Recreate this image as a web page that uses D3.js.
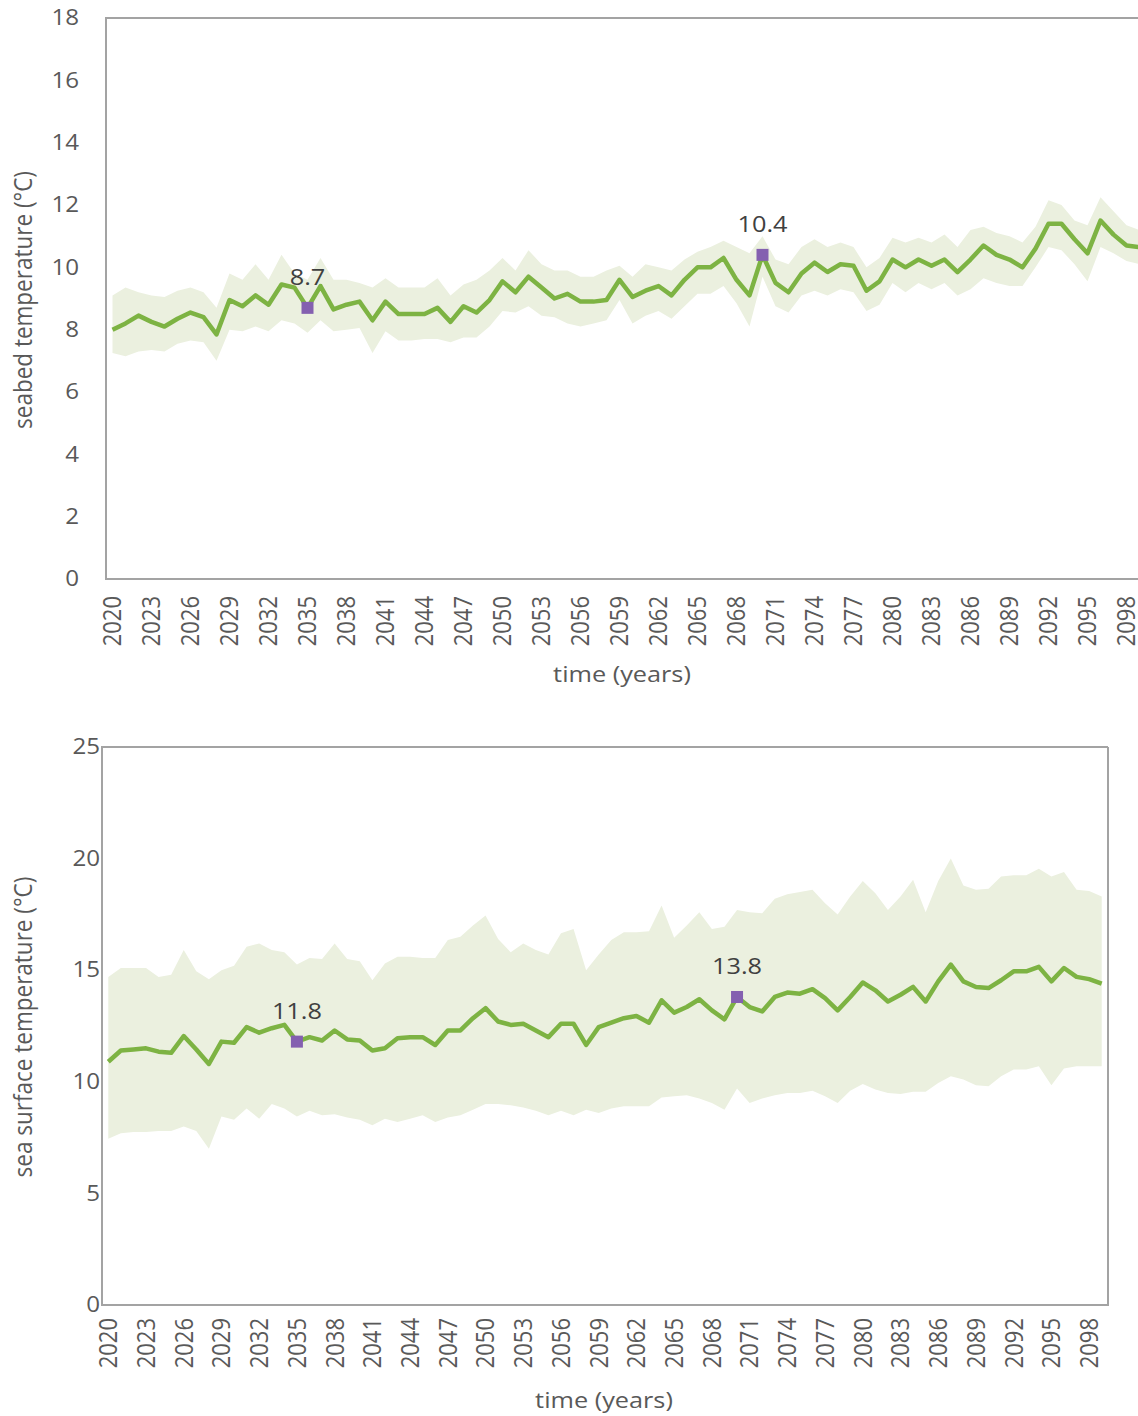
<!DOCTYPE html>
<html>
<head>
<meta charset="utf-8">
<script src="https://cdn.jsdelivr.net/npm/d3@7/dist/d3.min.js"></script>
<style>
    body { margin: 0; background: #ffffff; }
    text { font-family: "Open Sans", sans-serif; }
</style>
</head>
<body>
<div id="vis"></div>
<script>
// categories
var years = [
    2020, 2021, 2022, 2023, 2024, 2025, 2026, 2027, 2028, 2029,
    2030, 2031, 2032, 2033, 2034, 2035, 2036, 2037, 2038, 2039,
    2040, 2041, 2042, 2043, 2044, 2045, 2046, 2047, 2048, 2049,
    2050, 2051, 2052, 2053, 2054, 2055, 2056, 2057, 2058, 2059,
    2060, 2061, 2062, 2063, 2064, 2065, 2066, 2067, 2068, 2069,
    2070, 2071, 2072, 2073, 2074, 2075, 2076, 2077, 2078, 2079,
    2080, 2081, 2082, 2083, 2084, 2085, 2086, 2087, 2088, 2089,
    2090, 2091, 2092, 2093, 2094, 2095, 2096, 2097, 2098, 2099
];

// labelled years (purple squares)
var markYears = [ 2035, 2070 ];

// seabed temperature (°C)
var seabedMean = [
    8.0, 8.2, 8.45, 8.25, 8.1, 8.35, 8.55, 8.4, 7.85, 8.95,
    8.75, 9.1, 8.8, 9.45, 9.35, 8.7, 9.4, 8.65, 8.8, 8.9,
    8.3, 8.9, 8.5, 8.5, 8.5, 8.7, 8.25, 8.75, 8.55, 8.95,
    9.55, 9.2, 9.7, 9.35, 9.0, 9.15, 8.9, 8.9, 8.95, 9.6,
    9.05, 9.25, 9.4, 9.1, 9.6, 10.0, 10.0, 10.3, 9.6, 9.1,
    10.4, 9.5, 9.2, 9.8, 10.15, 9.85, 10.1, 10.05, 9.25, 9.55,
    10.25, 10.0, 10.25, 10.05, 10.25, 9.85, 10.25, 10.7, 10.4, 10.25,
    10.0, 10.6, 11.4, 11.4, 10.9, 10.45, 11.5, 11.05, 10.7, 10.65
];
var seabedUpper = [
    9.1, 9.35, 9.2, 9.1, 9.05, 9.25, 9.35, 9.2, 8.7, 9.8,
    9.6, 10.1, 9.6, 10.4, 9.8, 9.6, 10.3, 9.6, 9.6, 9.5,
    9.35, 9.65, 9.35, 9.35, 9.35, 9.65, 9.1, 9.45, 9.6, 9.9,
    10.3, 9.9, 10.55, 10.1, 9.9, 9.9, 9.7, 9.7, 9.9, 10.05,
    9.7, 10.1, 10.0, 9.9, 10.25, 10.5, 10.65, 10.85, 10.65, 10.45,
    11.0, 10.25, 10.1, 10.65, 10.9, 10.65, 10.8, 10.65, 10.0, 10.3,
    10.95, 10.8, 10.95, 10.8, 11.05, 10.65, 11.2, 11.3, 11.1, 11.0,
    10.8, 11.3, 12.15, 12.0, 11.5, 11.35, 12.25, 11.8, 11.35, 11.2
];
var seabedLower = [
    7.25, 7.15, 7.3, 7.35, 7.3, 7.55, 7.65, 7.6, 7.0, 8.0,
    7.95, 8.1, 7.95, 8.3, 8.2, 7.9, 8.3, 7.95, 8.0, 8.05,
    7.25, 7.95, 7.65, 7.65, 7.7, 7.7, 7.6, 7.75, 7.75, 8.1,
    8.6, 8.55, 8.75, 8.45, 8.4, 8.2, 8.1, 8.2, 8.3, 8.95,
    8.2, 8.45, 8.6, 8.35, 8.75, 9.15, 9.15, 9.4, 8.85, 8.1,
    9.7, 8.75, 8.55, 9.1, 9.25, 9.1, 9.3, 9.2, 8.6, 8.8,
    9.5, 9.2, 9.5, 9.3, 9.5, 9.1, 9.3, 9.65, 9.5, 9.4,
    9.4, 10.0, 10.65, 10.55, 10.1, 9.55, 10.65, 10.45, 10.2, 10.1
];

// sea surface temperature (°C)
var sstMean = [
    10.9, 11.4, 11.45, 11.5, 11.35, 11.3, 12.05, 11.45, 10.8, 11.8,
    11.75, 12.45, 12.2, 12.4, 12.55, 11.8, 12.0, 11.85, 12.3, 11.9,
    11.85, 11.4, 11.5, 11.95, 12.0, 12.0, 11.65, 12.3, 12.3, 12.85,
    13.3, 12.7, 12.55, 12.6, 12.3, 12.0, 12.6, 12.6, 11.65, 12.45,
    12.65, 12.85, 12.95, 12.65, 13.65, 13.1, 13.35, 13.7, 13.2, 12.8,
    13.8, 13.35, 13.15, 13.8, 14.0, 13.95, 14.15, 13.75, 13.2, 13.8,
    14.45, 14.1, 13.6, 13.9, 14.25, 13.6, 14.5, 15.25, 14.5, 14.25,
    14.2, 14.55, 14.95, 14.95, 15.15, 14.5, 15.1, 14.7, 14.6, 14.4
];
var sstUpper = [
    14.7, 15.1, 15.1, 15.1, 14.7, 14.8, 15.9, 14.95, 14.6, 15.0,
    15.2, 16.05, 16.2, 15.9, 15.8, 15.25, 15.55, 15.5, 16.2, 15.5,
    15.4, 14.55, 15.3, 15.6, 15.6, 15.55, 15.55, 16.35, 16.5, 17.0,
    17.45, 16.4, 15.8, 16.2, 15.9, 15.7, 16.65, 16.85, 15.0, 15.7,
    16.35, 16.7, 16.7, 16.75, 17.9, 16.45, 17.0, 17.6, 16.85, 16.95,
    17.7, 17.6, 17.55, 18.2, 18.4, 18.5, 18.6, 18.0, 17.5, 18.3,
    19.0, 18.45, 17.7, 18.3, 19.05, 17.6, 19.0, 20.0, 18.8, 18.6,
    18.65, 19.2, 19.25, 19.25, 19.55, 19.2, 19.4, 18.6, 18.55, 18.3
];
var sstLower = [
    7.45, 7.7, 7.75, 7.75, 7.8, 7.8, 8.0, 7.8, 7.0, 8.45,
    8.3, 8.8, 8.35, 9.0, 8.8, 8.45, 8.7, 8.5, 8.55, 8.4,
    8.3, 8.05, 8.35, 8.2, 8.35, 8.5, 8.2, 8.4, 8.5, 8.75,
    9.0, 9.0, 8.95, 8.85, 8.7, 8.5, 8.7, 8.5, 8.75, 8.6,
    8.8, 8.9, 8.9, 8.9, 9.3, 9.35, 9.4, 9.25, 9.05, 8.75,
    9.7, 9.05, 9.25, 9.4, 9.5, 9.5, 9.6, 9.35, 9.05, 9.6,
    9.9, 9.65, 9.5, 9.45, 9.55, 9.55, 9.95, 10.25, 10.1, 9.85,
    9.8, 10.25, 10.55, 10.55, 10.7, 9.85, 10.6, 10.7, 10.7, 10.7
];

// y tick labels
var seabedTicks = [ 0, 2, 4, 6, 8, 10, 12, 14, 16, 18 ];
var sstTicks = [ 0, 5, 10, 15, 20, 25 ];

// the source picture is a little wider than tall, so horizontal text is stretched
var stretch = 1.15;

var svg = d3.select( "#vis" ).append( "svg" )
    .attr( "width", 1138 )
    .attr( "height", 1416 );

draw_chart({
    left: 106, right: 1146, top: 18, bottom: 579,
    mean: seabedMean, upper: seabedUpper, lower: seabedLower,
    ticks: seabedTicks, tickX: 79, xTickGap: 17,
    ylabel: "seabed temperature (°C)", ylabelY: 300,
    xlabelX: 622, xlabelY: 682,
    rightBorder: false
});

draw_chart({
    left: 102, right: 1108, top: 747, bottom: 1305,
    mean: sstMean, upper: sstUpper, lower: sstLower,
    ticks: sstTicks, tickX: 100, xTickGap: 13,
    ylabel: "sea surface temperature (°C)", ylabelY: 1027,
    xlabelX: 604, xlabelY: 1408,
    rightBorder: true
});

function draw_chart( c )
{
    var data = years.map( function( yr, i ) {
        return { year: yr, mean: c.mean[ i ], upper: c.upper[ i ], lower: c.lower[ i ] };
    });

    var x = d3.scaleBand().domain( years ).range( [ c.left, c.right ] ).padding( 0 );
    var y = d3.scaleLinear()
        .domain( [ 0, d3.max( c.ticks ) ] )
        .range( [ c.bottom, c.top ] );
    var cx = function( d ) { return x( d.year ) + x.bandwidth() / 2; };

    var g = svg.append( "g" );

    // shaded range
    g.append( "path" )
        .datum( data )
        .attr( "fill", "#ebf0df" )
        .attr( "d", d3.area()
            .x( cx )
            .y0( function( d ) { return y( d.lower ); } )
            .y1( function( d ) { return y( d.upper ); } ) );

    // mean line
    g.append( "path" )
        .datum( data )
        .attr( "fill", "none" )
        .attr( "stroke", "#7db343" )
        .attr( "stroke-width", 4.5 )
        .attr( "stroke-linejoin", "round" )
        .attr( "d", d3.line()
            .x( cx )
            .y( function( d ) { return y( d.mean ); } ) );

    // plot border
    var border = "M" + c.right + "," + c.top + "H" + c.left + "V" + c.bottom + "H" + c.right;
    if( c.rightBorder )
        border += "V" + c.top;
    g.append( "path" )
        .attr( "d", border )
        .attr( "fill", "none" )
        .attr( "stroke", "#a3a3a3" )
        .attr( "stroke-width", 2 );

    // y axis
    var yAxis = g.append( "g" )
        .attr( "transform", "translate(" + c.tickX + ",0)" )
        .call( d3.axisLeft( y ).tickValues( c.ticks ).tickSize( 0 ).tickPadding( 0 ) );
    yAxis.select( ".domain" ).remove();
    yAxis.selectAll( "text" )
        .attr( "transform", "scale(" + stretch + ",1)" )
        .style( "font-size", "21px" )
        .style( "font-family", "'Open Sans', sans-serif" )
        .attr( "fill", "#595959" );

    // x axis, every third year
    var xAxis = g.append( "g" )
        .attr( "transform", "translate(0," + c.bottom + ")" )
        .call( d3.axisBottom( x )
            .tickValues( years.filter( function( d, i ) { return i % 3 === 0; } ) )
            .tickSize( 0 ) );
    xAxis.select( ".domain" ).remove();
    xAxis.selectAll( "text" )
        .attr( "transform", "scale(" + stretch + ",1) rotate(-90)" )
        .attr( "x", -c.xTickGap )
        .attr( "y", 0 )
        .attr( "dy", "0.35em" )
        .style( "text-anchor", "end" )
        .style( "font-size", "22px" )
        .style( "font-family", "'Open Sans', sans-serif" )
        .attr( "fill", "#595959" );

    // highlighted years
    var marks = data.filter( function( d ) { return markYears.indexOf( d.year ) >= 0; } );
    g.selectAll( "rect.mark" )
        .data( marks )
        .enter().append( "rect" )
        .attr( "class", "mark" )
        .attr( "x", function( d ) { return cx( d ) - 6; } )
        .attr( "y", function( d ) { return y( d.mean ) - 6; } )
        .attr( "width", 12 )
        .attr( "height", 12 )
        .attr( "fill", "#8460b0" );
    g.selectAll( "text.mark" )
        .data( marks )
        .enter().append( "text" )
        .attr( "class", "mark" )
        .attr( "transform", function( d ) {
            return "translate(" + cx( d ) + "," + ( y( d.mean ) - 23 ) + ") scale(" + stretch + ",1)";
        })
        .style( "text-anchor", "middle" )
        .style( "font-size", "22px" )
        .attr( "fill", "#404040" )
        .text( function( d ) { return d.mean.toFixed( 1 ); } );

    // axis titles
    g.append( "text" )
        .attr( "transform", "translate(32," + c.ylabelY + ") scale(" + stretch + ",1) rotate(-90)" )
        .style( "text-anchor", "middle" )
        .style( "font-size", "22.5px" )
        .attr( "fill", "#595959" )
        .text( c.ylabel );

    g.append( "text" )
        .attr( "transform", "translate(" + c.xlabelX + "," + c.xlabelY + ") scale(" + stretch + ",1)" )
        .style( "text-anchor", "middle" )
        .style( "font-size", "22px" )
        .attr( "fill", "#595959" )
        .text( "time (years)" );
}
</script>
</body>
</html>
